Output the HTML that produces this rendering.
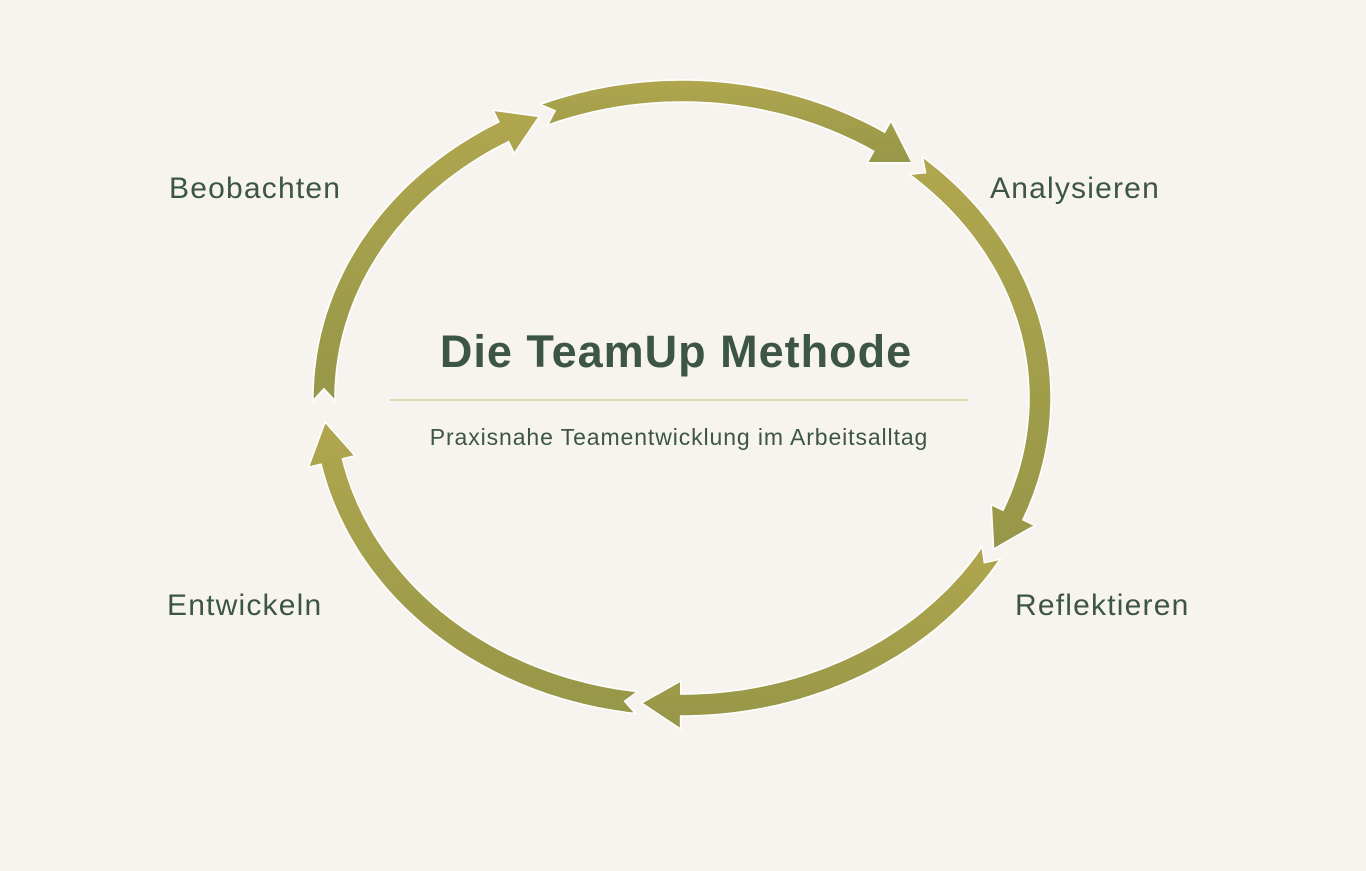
<!DOCTYPE html>
<html><head><meta charset="utf-8"><style>
html,body{margin:0;padding:0;background:#f7f4f0;}
body{width:1366px;height:871px;position:relative;overflow:hidden;font-family:"Liberation Sans",sans-serif;color:#3c5544;}
.t{position:absolute;white-space:nowrap;}
.lbl{font-size:30px;letter-spacing:1.2px;}
</style></head><body>
<svg id="s" width="1366" height="871" style="position:absolute;left:0;top:0"></svg>
<div class="t lbl" style="left:169px;top:172px">Beobachten</div>
<div class="t lbl" style="left:990px;top:172px">Analysieren</div>
<div class="t lbl" style="left:1015px;top:589px">Reflektieren</div>
<div class="t lbl" style="left:167px;top:589px">Entwickeln</div>
<div class="t" style="left:0;width:1352px;text-align:center;top:326px;font-size:45px;font-weight:bold;letter-spacing:1px;">Die TeamUp Methode</div>
<div style="position:absolute;left:390px;top:399px;width:578px;height:2px;background:#dcd7b0"></div>
<div class="t" style="left:0;width:1358px;text-align:center;top:424px;font-size:23px;letter-spacing:0.9px;">Praxisnahe Teamentwicklung im Arbeitsalltag</div>
<script>
var cx=682,cy=398,rx=358,ry=307;
function P(t){return [cx+rx*Math.cos(t),cy+ry*Math.sin(t)];}
function N(t){var dx=-rx*Math.sin(t),dy=ry*Math.cos(t),l=Math.hypot(dx,dy);return [dy/l,-dx/l,dx/l,dy/l];}
var segs=[[179.5,246.5],[247.3,310],[310.8,389.5],[390.3,456.5],[457.3,535.5]];
var svg=document.getElementById('s'),html='';
var defs='<defs><linearGradient id="g" x1="0" y1="0" x2="0" y2="1"><stop offset="0" stop-color="#b0a64e"/><stop offset="1" stop-color="#969748"/></linearGradient></defs>';
segs.forEach(function(s){
 var a0=s[0]*Math.PI/180,a1=s[1]*Math.PI/180;
 var n=200,len=0,prev=P(a0),hb=a1;
 var arr=[];for(var i=0;i<=n;i++){var t=a0+(a1-a0)*i/n;var p=P(t);len+=Math.hypot(p[0]-prev[0],p[1]-prev[1]);prev=p;arr.push([t,len]);}
 var total=len;for(i=0;i<=n;i++){if(arr[i][1]>=total-40){hb=arr[i][0];break;}}
 var hw=11,HW=24,outer=[],inner=[];
 for(i=0;i<=60;i++){var t=a0+(hb-a0)*i/60;var p=P(t),m=N(t);outer.push([p[0]+m[0]*hw,p[1]+m[1]*hw]);inner.push([p[0]-m[0]*hw,p[1]-m[1]*hw]);}
 var pb=P(hb),mb=N(hb),tip=P(a1);
 var m0=N(a0),p0=P(a0);
 var notch=[p0[0]+m0[2]*12,p0[1]+m0[3]*12];
 var poly=[notch].concat(outer);
 poly.push([pb[0]+mb[0]*HW,pb[1]+mb[1]*HW]);poly.push(tip);poly.push([pb[0]-mb[0]*HW,pb[1]-mb[1]*HW]);
 poly=poly.concat(inner.reverse());
 html+='<polygon fill="url(#g)" stroke="#fff" stroke-width="1.5" stroke-linejoin="miter" points="'+poly.map(function(q){return q[0].toFixed(1)+','+q[1].toFixed(1)}).join(' ')+'"/>';
});
svg.innerHTML=defs+html;
</script>
</body></html>
